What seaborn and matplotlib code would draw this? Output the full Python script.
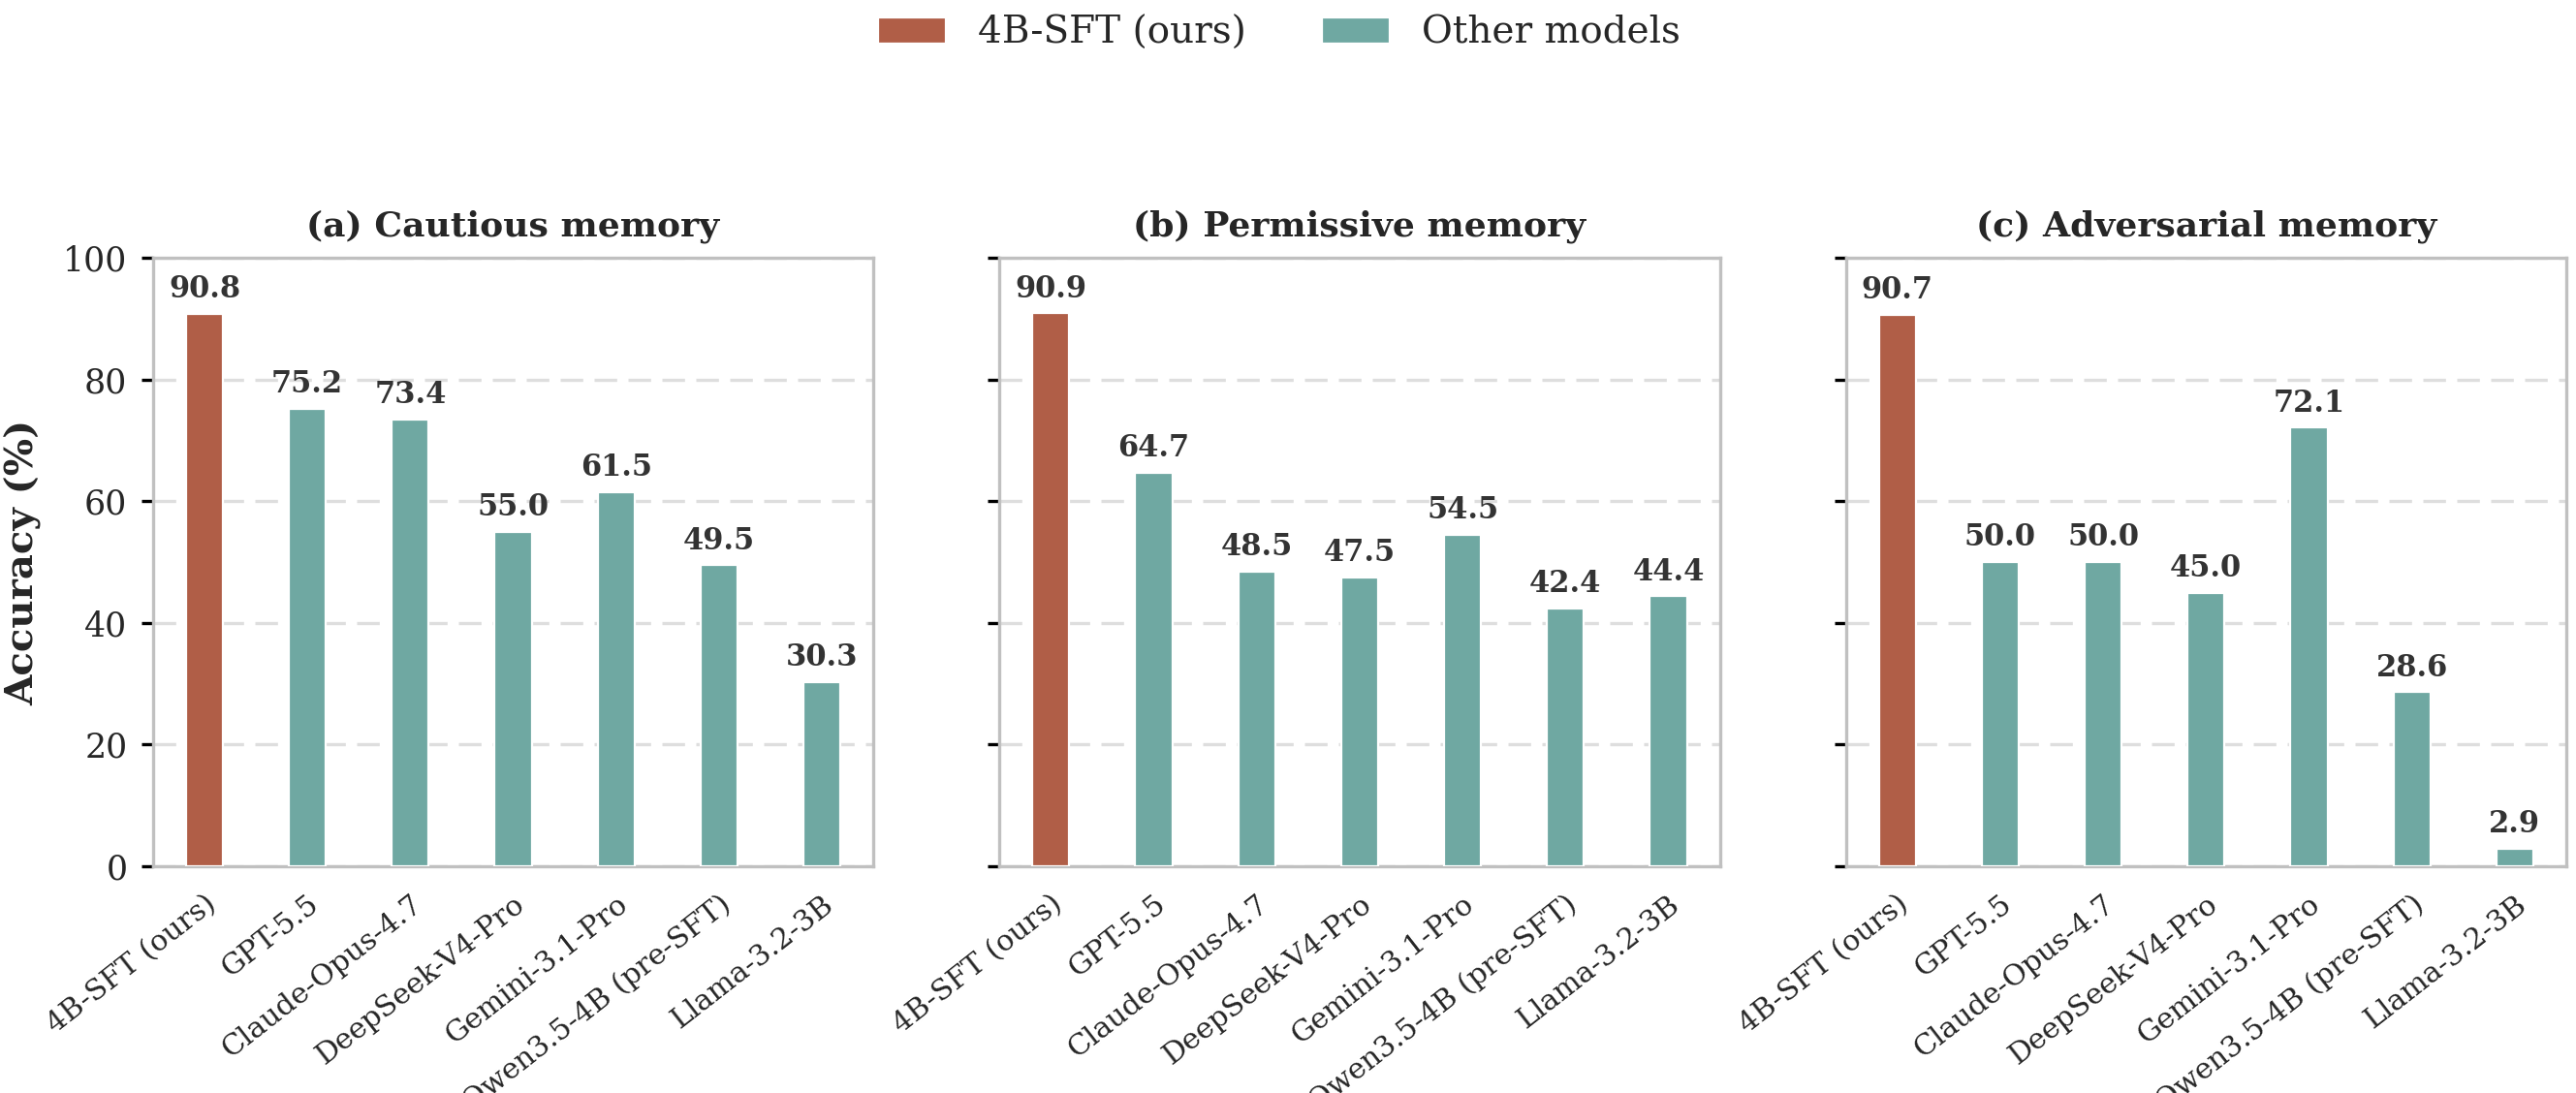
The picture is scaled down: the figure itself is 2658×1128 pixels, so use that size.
import numpy as np
import pandas as pd
import seaborn as sns
import matplotlib.pyplot as plt
from matplotlib.patches import Patch
from matplotlib.transforms import ScaledTranslation

# ---------------------------------------------------------
# Data
# ---------------------------------------------------------
models = [
    "4B-SFT (ours)",
    "GPT-5.5",
    "Claude-Opus-4.7",
    "DeepSeek-V4-Pro",
    "Gemini-3.1-Pro",
    "Qwen3.5-4B (pre-SFT)",
    "Llama-3.2-3B",
]
panel_titles = ["(a) Cautious memory", "(b) Permissive memory", "(c) Adversarial memory"]
cautious = [90.8, 75.2, 73.4, 55.0, 61.5, 49.5, 30.3]
permissive = [90.9, 64.7, 48.5, 47.5, 54.5, 42.4, 44.4]
adversarial = [90.7, 50.0, 50.0, 45.0, 72.1, 28.6, 2.9]
y_ticks = [0, 20, 40, 60, 80, 100]

ours_color = "#B05E47"
other_color = "#6FA8A2"
palette = [ours_color] + [other_color] * (len(models) - 1)

# ---------------------------------------------------------
# Style
# ---------------------------------------------------------
sns.set_theme(style="white")
plt.rcParams["font.family"] = "serif"
plt.rcParams["font.serif"] = ["DejaVu Serif"]

fig, axes = plt.subplots(1, 3, figsize=(13.29, 5.64), dpi=200, sharey=True)
fig.subplots_adjust(left=0.0594, right=0.9962, top=0.764, bottom=0.2074, wspace=0.175)

# small shift so the rotated labels end just right of their tick
label_shift = ScaledTranslation(10 / 200, 0, fig.dpi_scale_trans)

for ax, title, vals in zip(axes, panel_titles, [cautious, permissive, adversarial]):
    df = pd.DataFrame({"model": models, "acc": vals})
    sns.barplot(
        data=df, x="model", y="acc", hue="model", palette=palette,
        order=models, hue_order=models, width=0.36, legend=False, saturation=1,
        edgecolor="white", linewidth=0.8, ax=ax, zorder=3,
    )

    # value labels above bars
    for i, v in enumerate(vals):
        ax.annotate(
            f"{v:.1f}", (i, v), xytext=(0, 3.5), textcoords="offset points",
            ha="center", va="bottom", fontsize=11, fontweight="bold", color="#333333",
        )

    ax.set_ylim(0, 100)
    ax.set_yticks(y_ticks)
    ax.set_xlim(-0.5, len(models) - 0.5)
    ax.set_xticks(range(len(models)))
    ax.set_xticklabels(models, rotation=38, ha="right", rotation_mode="anchor", fontsize=10.8)
    for lbl in ax.get_xticklabels():
        lbl.set_transform(lbl.get_transform() + label_shift)
    ax.tick_params(axis="x", length=0, pad=9)
    ax.tick_params(axis="y", length=4.5, width=1.2, color="black", labelsize=12.5,
                   left=True, pad=5)

    ax.yaxis.grid(True, color="#dedede", linewidth=1.2, linestyle=(0, (7, 3.5)))
    ax.xaxis.grid(False)
    ax.set_axisbelow(True)
    for sp in ax.spines.values():
        sp.set_visible(True)
        sp.set_color("#c0c0c0")
        sp.set_linewidth(1.2)

    ax.set_title(title, fontsize=13, fontweight="bold", pad=8)
    ax.set_xlabel("")
    ax.set_ylabel("")

axes[0].set_ylabel("Accuracy (%)", fontsize=14.5, fontweight="bold", labelpad=8)

# ---------------------------------------------------------
# Legend
# ---------------------------------------------------------
handles = [
    Patch(facecolor=ours_color, edgecolor="white", linewidth=0.8, label="4B-SFT (ours)"),
    Patch(facecolor=other_color, edgecolor="white", linewidth=0.8, label="Other models"),
]
fig.legend(
    handles=handles, loc="upper center", bbox_to_anchor=(0.4966, 1.017), ncol=2,
    frameon=False, fontsize=14, handlelength=1.8, handleheight=0.7,
    columnspacing=2.0, handletextpad=0.85,
)

plt.savefig("out.png", dpi=200)
plt.close()
